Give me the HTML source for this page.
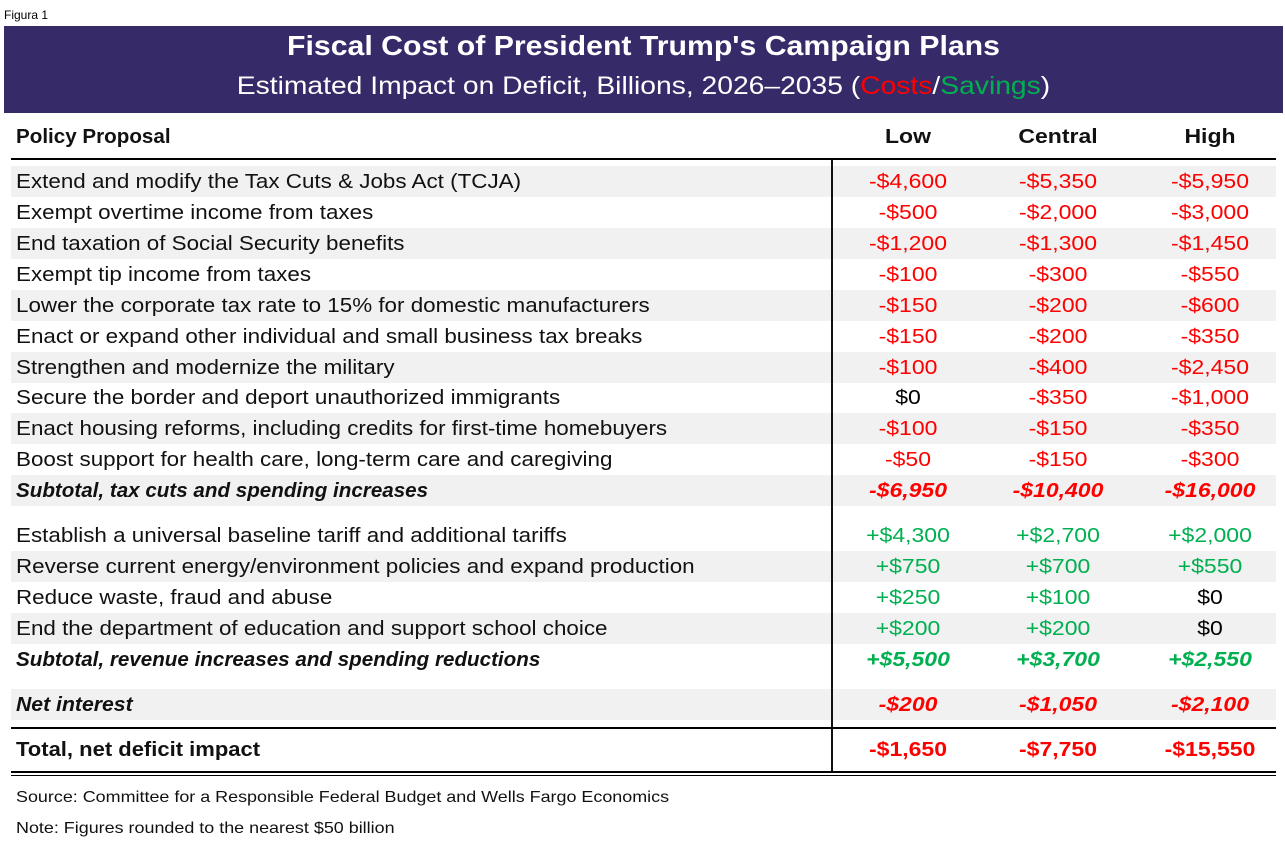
<!DOCTYPE html>
<html><head><meta charset="utf-8"><style>
body{margin:0;width:1285px;height:842px;background:#fff;position:relative;font-family:"Liberation Sans","DejaVu Sans",sans-serif;overflow:hidden}
.a{position:absolute}
.fig{left:4px;top:8px;font-size:12px;color:#000}
.ban{left:4px;top:26px;width:1279px;height:87px;background:#372a69;color:#fff;text-align:center}
.t1{position:absolute;left:0;right:0;top:4px;font-size:28px;font-weight:bold;transform:scaleX(1.08)}
.t2{position:absolute;left:0;right:0;top:46px;font-size:25px;transform:scaleX(1.13)}
.row{position:absolute;left:11px;width:1265px;height:31px;font-size:20px;line-height:33px;color:#111}
.sh{background:#f1f1f1}
.row span{position:absolute;top:0;white-space:nowrap}
.l{left:5px;transform:scaleX(1.12);transform-origin:0 0}
.c{width:140px;text-align:center;transform:scaleX(1.15)}
.c1{left:827px}.c2{left:977px}.c3{left:1129px}
.r{color:#ff0000}.g{color:#00b050}.k{color:#000}
.bi{font-weight:bold;font-style:italic}
.b{font-weight:bold}
.b .l,.bi .l{transform:scaleX(1.03)}
.ft{left:16px;font-size:16px;color:#111;transform:scaleX(1.12);transform-origin:0 0;white-space:nowrap}
</style></head><body>
<div class="a fig">Figura 1</div>
<div class="a ban"><div class="t1">Fiscal Cost of President Trump's Campaign Plans</div>
<div class="t2">Estimated Impact on Deficit, Billions, 2026–2035 (<span style="color:#ff0000">Costs</span>/<span style="color:#00b050">Savings</span>)</div></div>

<div class="row b" style="top:120px;height:34px;line-height:34px"><span class="l">Policy Proposal</span><span class="c c1">Low</span><span class="c c2">Central</span><span class="c c3">High</span></div>
<div class="a" style="left:11px;top:158px;width:1265px;height:2px;background:#000"></div>

<div class="row sh" style="top:166px"><span class="l">Extend and modify the Tax Cuts &amp; Jobs Act (TCJA)</span><span class="c c1 r">-$4,600</span><span class="c c2 r">-$5,350</span><span class="c c3 r">-$5,950</span></div>
<div class="row" style="top:197px"><span class="l">Exempt overtime income from taxes</span><span class="c c1 r">-$500</span><span class="c c2 r">-$2,000</span><span class="c c3 r">-$3,000</span></div>
<div class="row sh" style="top:228px"><span class="l">End taxation of Social Security benefits</span><span class="c c1 r">-$1,200</span><span class="c c2 r">-$1,300</span><span class="c c3 r">-$1,450</span></div>
<div class="row" style="top:259px"><span class="l">Exempt tip income from taxes</span><span class="c c1 r">-$100</span><span class="c c2 r">-$300</span><span class="c c3 r">-$550</span></div>
<div class="row sh" style="top:290px"><span class="l">Lower the corporate tax rate to 15% for domestic manufacturers</span><span class="c c1 r">-$150</span><span class="c c2 r">-$200</span><span class="c c3 r">-$600</span></div>
<div class="row" style="top:321px"><span class="l">Enact or expand other individual and small business tax breaks</span><span class="c c1 r">-$150</span><span class="c c2 r">-$200</span><span class="c c3 r">-$350</span></div>
<div class="row sh" style="top:352px"><span class="l">Strengthen and modernize the military</span><span class="c c1 r">-$100</span><span class="c c2 r">-$400</span><span class="c c3 r">-$2,450</span></div>
<div class="row" style="top:382px"><span class="l">Secure the border and deport unauthorized immigrants</span><span class="c c1 k">$0</span><span class="c c2 r">-$350</span><span class="c c3 r">-$1,000</span></div>
<div class="row sh" style="top:413px"><span class="l">Enact housing reforms, including credits for first-time homebuyers</span><span class="c c1 r">-$100</span><span class="c c2 r">-$150</span><span class="c c3 r">-$350</span></div>
<div class="row" style="top:444px"><span class="l">Boost support for health care, long-term care and caregiving</span><span class="c c1 r">-$50</span><span class="c c2 r">-$150</span><span class="c c3 r">-$300</span></div>
<div class="row sh bi" style="top:475px"><span class="l">Subtotal, tax cuts and spending increases</span><span class="c c1 r">-$6,950</span><span class="c c2 r">-$10,400</span><span class="c c3 r">-$16,000</span></div>

<div class="row" style="top:520px"><span class="l">Establish a universal baseline tariff and additional tariffs</span><span class="c c1 g">+$4,300</span><span class="c c2 g">+$2,700</span><span class="c c3 g">+$2,000</span></div>
<div class="row sh" style="top:551px"><span class="l">Reverse current energy/environment policies and expand production</span><span class="c c1 g">+$750</span><span class="c c2 g">+$700</span><span class="c c3 g">+$550</span></div>
<div class="row" style="top:582px"><span class="l">Reduce waste, fraud and abuse</span><span class="c c1 g">+$250</span><span class="c c2 g">+$100</span><span class="c c3 k">$0</span></div>
<div class="row sh" style="top:613px"><span class="l">End the department of education and support school choice</span><span class="c c1 g">+$200</span><span class="c c2 g">+$200</span><span class="c c3 k">$0</span></div>
<div class="row bi" style="top:644px"><span class="l">Subtotal, revenue increases and spending reductions</span><span class="c c1 g">+$5,500</span><span class="c c2 g">+$3,700</span><span class="c c3 g">+$2,550</span></div>

<div class="row sh bi" style="top:689px"><span class="l" style="transform:scaleX(1.06)">Net interest</span><span class="c c1 r">-$200</span><span class="c c2 r">-$1,050</span><span class="c c3 r">-$2,100</span></div>
<div class="a" style="left:11px;top:727px;width:1265px;height:2px;background:#000"></div>
<div class="row b" style="top:734px"><span class="l" style="transform:scaleX(1.1)">Total, net deficit impact</span><span class="c c1 r">-$1,650</span><span class="c c2 r">-$7,750</span><span class="c c3 r">-$15,550</span></div>
<div class="a" style="left:11px;top:771px;width:1265px;height:2px;background:#000"></div>
<div class="a" style="left:11px;top:775px;width:1265px;height:1px;background:#000"></div>
<div class="a" style="left:831px;top:160px;width:2px;height:611px;background:#111"></div>

<div class="a ft" style="top:789px">Source: Committee for a Responsible Federal Budget and Wells Fargo Economics</div>
<div class="a ft" style="top:820px">Note: Figures rounded to the nearest $50 billion</div>
</body></html>
